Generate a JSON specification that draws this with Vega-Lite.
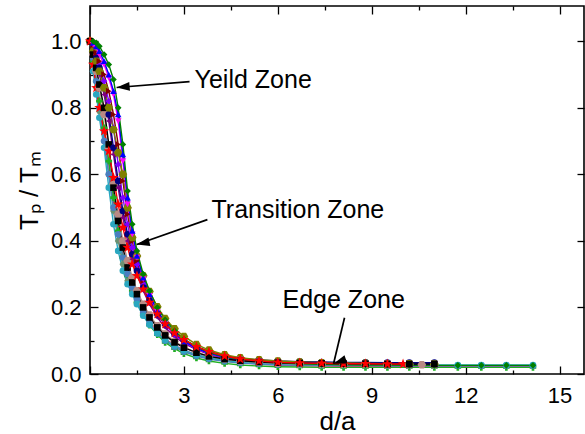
{
  "$schema": "https://vega.github.io/schema/vega-lite/v6.json",
  "width": 494,
  "height": 368,
  "autosize": {"type": "none"},
  "padding": {"left": 90, "top": 6, "right": 1, "bottom": 60},
  "background": "white",
  "config": {
    "view": {"stroke": "black", "strokeWidth": 1.6},
    "axis": {
      "domain": false,
      "grid": false,
      "labelFlush": false,
      "tickColor": "black",
      "tickWidth": 1.3,
      "labelFont": "Liberation Sans",
      "labelFontSize": 22,
      "labelColor": "black",
      "titleFont": "Liberation Sans",
      "titleFontWeight": "normal",
      "titleFontSize": 26,
      "titleColor": "black"
    }
  },
  "datasets": {
    "curves": [
      {"x": 0, "c1": 1.0, "c2": 1.0, "c3": 1.0, "c4": 1.0, "c5": 1.0, "c6": 1.0, "c7": 1.0, "c8": 1.0, "c9": 1.0, "c10": 1.0, "c11": 1.0, "c12": 1.0, "c13": 1.0, "c14": 1.0, "c15": 1.0, "c16": 1.0},
      {"x": 0.1, "c1": 0.95, "c2": 0.94, "c3": 0.93, "c4": 0.95, "c5": 0.91, "c6": 0.96, "c7": 0.97, "c8": 0.98, "c9": 0.975, "c10": 0.985, "c11": 0.97, "c12": 0.99, "c13": 0.995, "c14": 1.0, "c15": 0.96, "c16": 0.93},
      {"x": 0.2, "c1": 0.89, "c2": 0.88, "c3": 0.86, "c4": 0.88, "c5": 0.84, "c6": 0.91, "c7": 0.94, "c8": 0.96, "c9": 0.95, "c10": 0.965, "c11": 0.94, "c12": 0.98, "c13": 0.985, "c14": 0.995, "c15": 0.92, "c16": 0.86},
      {"x": 0.3, "c1": 0.82, "c2": 0.82, "c3": 0.79, "c4": 0.8, "c5": 0.77, "c6": 0.86, "c7": 0.9, "c8": 0.93, "c9": 0.92, "c10": 0.94, "c11": 0.91, "c12": 0.96, "c13": 0.97, "c14": 0.985, "c15": 0.87, "c16": 0.8},
      {"x": 0.45, "c1": 0.73, "c2": 0.74, "c3": 0.7, "c4": 0.7, "c5": 0.68, "c6": 0.78, "c7": 0.84, "c8": 0.88, "c9": 0.86, "c10": 0.9, "c11": 0.86, "c12": 0.93, "c13": 0.94, "c14": 0.96, "c15": 0.8, "c16": 0.73},
      {"x": 0.6, "c1": 0.63, "c2": 0.64, "c3": 0.6, "c4": 0.6, "c5": 0.56, "c6": 0.68, "c7": 0.76, "c8": 0.82, "c9": 0.78, "c10": 0.85, "c11": 0.8, "c12": 0.89, "c13": 0.9, "c14": 0.93, "c15": 0.69, "c16": 0.67},
      {"x": 0.75, "c1": 0.52, "c2": 0.53, "c3": 0.49, "c4": 0.5, "c5": 0.45, "c6": 0.57, "c7": 0.66, "c8": 0.74, "c9": 0.68, "c10": 0.78, "c11": 0.735, "c12": 0.84, "c13": 0.85, "c14": 0.885, "c15": 0.56, "c16": 0.59},
      {"x": 0.9, "c1": 0.43, "c2": 0.43, "c3": 0.4, "c4": 0.42, "c5": 0.37, "c6": 0.48, "c7": 0.56, "c8": 0.63, "c9": 0.58, "c10": 0.69, "c11": 0.665, "c12": 0.76, "c13": 0.78, "c14": 0.8, "c15": 0.46, "c16": 0.51},
      {"x": 1.05, "c1": 0.36, "c2": 0.35, "c3": 0.33, "c4": 0.35, "c5": 0.31, "c6": 0.4, "c7": 0.47, "c8": 0.53, "c9": 0.49, "c10": 0.58, "c11": 0.6, "c12": 0.64, "c13": 0.66, "c14": 0.69, "c15": 0.38, "c16": 0.44},
      {"x": 1.2, "c1": 0.305, "c2": 0.295, "c3": 0.28, "c4": 0.3, "c5": 0.27, "c6": 0.34, "c7": 0.4, "c8": 0.45, "c9": 0.42, "c10": 0.48, "c11": 0.5, "c12": 0.51, "c13": 0.53, "c14": 0.55, "c15": 0.32, "c16": 0.38},
      {"x": 1.35, "c1": 0.26, "c2": 0.25, "c3": 0.245, "c4": 0.26, "c5": 0.24, "c6": 0.29, "c7": 0.345, "c8": 0.38, "c9": 0.36, "c10": 0.4, "c11": 0.41, "c12": 0.42, "c13": 0.43, "c14": 0.45, "c15": 0.275, "c16": 0.33},
      {"x": 1.5, "c1": 0.228, "c2": 0.215, "c3": 0.215, "c4": 0.225, "c5": 0.21, "c6": 0.25, "c7": 0.3, "c8": 0.33, "c9": 0.31, "c10": 0.34, "c11": 0.355, "c12": 0.35, "c13": 0.355, "c14": 0.37, "c15": 0.24, "c16": 0.295},
      {"x": 1.7, "c1": 0.19, "c2": 0.178, "c3": 0.18, "c4": 0.185, "c5": 0.175, "c6": 0.21, "c7": 0.25, "c8": 0.27, "c9": 0.26, "c10": 0.28, "c11": 0.295, "c12": 0.285, "c13": 0.29, "c14": 0.3, "c15": 0.2, "c16": 0.255},
      {"x": 1.9, "c1": 0.158, "c2": 0.147, "c3": 0.15, "c4": 0.152, "c5": 0.148, "c6": 0.177, "c7": 0.21, "c8": 0.225, "c9": 0.22, "c10": 0.232, "c11": 0.248, "c12": 0.235, "c13": 0.24, "c14": 0.25, "c15": 0.17, "c16": 0.215},
      {"x": 2.15, "c1": 0.128, "c2": 0.118, "c3": 0.122, "c4": 0.123, "c5": 0.122, "c6": 0.145, "c7": 0.17, "c8": 0.18, "c9": 0.18, "c10": 0.188, "c11": 0.202, "c12": 0.187, "c13": 0.19, "c14": 0.2, "c15": 0.14, "c16": 0.18},
      {"x": 2.4, "c1": 0.105, "c2": 0.095, "c3": 0.1, "c4": 0.1, "c5": 0.102, "c6": 0.12, "c7": 0.14, "c8": 0.148, "c9": 0.15, "c10": 0.154, "c11": 0.167, "c12": 0.152, "c13": 0.155, "c14": 0.163, "c15": 0.116, "c16": 0.15},
      {"x": 2.7, "c1": 0.087, "c2": 0.076, "c3": 0.082, "c4": 0.081, "c5": 0.085, "c6": 0.098, "c7": 0.113, "c8": 0.118, "c9": 0.123, "c10": 0.123, "c11": 0.136, "c12": 0.12, "c13": 0.122, "c14": 0.13, "c15": 0.095, "c16": 0.123},
      {"x": 3.0, "c1": 0.072, "c2": 0.061, "c3": 0.068, "c4": 0.067, "c5": 0.071, "c6": 0.081, "c7": 0.092, "c8": 0.096, "c9": 0.101, "c10": 0.1, "c11": 0.113, "c12": 0.097, "c13": 0.098, "c14": 0.105, "c15": 0.079, "c16": 0.103},
      {"x": 3.4, "c1": 0.058, "c2": 0.048, "c3": 0.055, "c4": 0.054, "c5": 0.058, "c6": 0.065, "c7": 0.073, "c8": 0.076, "c9": 0.082, "c10": 0.079, "c11": 0.089, "c12": 0.076, "c13": 0.077, "c14": 0.082, "c15": 0.064, "c16": 0.082},
      {"x": 3.8, "c1": 0.048, "c2": 0.039, "c3": 0.046, "c4": 0.045, "c5": 0.049, "c6": 0.054, "c7": 0.059, "c8": 0.061, "c9": 0.068, "c10": 0.064, "c11": 0.072, "c12": 0.061, "c13": 0.062, "c14": 0.065, "c15": 0.053, "c16": 0.067},
      {"x": 4.3, "c1": 0.04, "c2": 0.032, "c3": 0.039, "c4": 0.038, "c5": 0.041, "c6": 0.045, "c7": 0.048, "c8": 0.05, "c9": 0.055, "c10": 0.052, "c11": 0.058, "c12": 0.05, "c13": 0.05, "c14": 0.052, "c15": 0.045, "c16": 0.054},
      {"x": 4.8, "c1": 0.034, "c2": 0.027, "c3": 0.034, "c4": 0.033, "c5": 0.036, "c6": 0.039, "c7": 0.041, "c8": 0.043, "c9": 0.047, "c10": 0.045, "c11": 0.049, "c12": 0.043, "c13": 0.043, "c14": 0.044, "c15": 0.04, "c16": 0.045},
      {"x": 5.4, "c1": 0.03, "c2": 0.024, "c3": 0.031, "c4": 0.03, "c5": 0.033, "c6": 0.035, "c7": 0.037, "c8": 0.038, "c9": 0.042, "c10": 0.04, "c11": 0.043, "c12": 0.038, "c13": 0.038, "c14": 0.038, "c15": 0.036, "c16": 0.039},
      {"x": 6.0, "c1": 0.027, "c2": 0.022, "c3": 0.029, "c4": 0.028, "c5": 0.031, "c6": 0.032, "c7": 0.034, "c8": 0.035, "c9": 0.039, "c10": 0.036, "c11": 0.039, "c12": 0.035, "c13": 0.035, "c14": 0.034, "c15": 0.034, "c16": 0.035},
      {"x": 6.7, "c1": 0.025, "c2": 0.021, "c3": 0.028, "c4": 0.027, "c5": 0.03, "c6": 0.031, "c7": 0.032, "c8": 0.033, "c9": 0.037, "c10": 0.034, "c11": 0.036, "c12": 0.033, "c13": 0.033, "c14": 0.031, "c15": 0.033, "c16": 0.033},
      {"x": 7.4, "c1": 0.024, "c2": 0.02, "c3": 0.027, "c4": 0.026, "c5": 0.029, "c6": 0.03, "c7": 0.031, "c8": 0.032, "c9": 0.036, "c10": 0.033, "c11": 0.034, "c12": 0.032, "c13": 0.032, "c14": 0.029, "c15": 0.032, "c16": 0.032},
      {"x": 8.1, "c1": 0.023, "c2": 0.02, "c3": 0.027, "c4": 0.026, "c5": 0.028, "c6": 0.029, "c7": 0.03, "c8": 0.031, "c9": 0.035, "c10": 0.032, "c11": 0.033, "c12": 0.031, "c13": 0.031, "c14": 0.028, "c15": 0.031, "c16": 0.031},
      {"x": 8.8, "c1": 0.023, "c2": 0.02, "c3": 0.026, "c4": 0.026, "c5": 0.028, "c6": 0.029, "c7": 0.03, "c8": 0.031, "c9": 0.035, "c10": 0.031, "c11": 0.032, "c12": 0.031, "c13": 0.031, "c14": 0.027, "c15": 0.031, "c16": 0.031},
      {"x": 9.5, "c1": 0.023, "c2": 0.02, "c3": 0.026, "c4": 0.025, "c5": 0.027, "c6": 0.028, "c7": 0.03, "c8": 0.03, "c9": 0.034, "c10": 0.031, "c11": 0.031, "c12": 0.031, "c13": 0.03, "c14": 0.027, "c15": 0.03, "c16": 0.03},
      {"x": 10.0, "c16": 0.03},
      {"x": 10.2, "c1": 0.022, "c2": 0.02, "c3": 0.026, "c4": 0.025, "c5": 0.027, "c6": 0.028, "c7": 0.029, "c8": 0.03, "c9": 0.034, "c10": 0.031, "c11": 0.031, "c12": 0.03, "c13": 0.03, "c14": 0.026, "c15": 0.03},
      {"x": 10.6, "c6": 0.028},
      {"x": 11.0, "c1": 0.022, "c2": 0.02, "c3": 0.026, "c4": 0.025, "c5": 0.027, "c6": 0.028, "c7": 0.029, "c8": 0.03, "c9": 0.034, "c10": 0.031, "c11": 0.03, "c12": 0.03, "c13": 0.03, "c14": 0.026, "c15": 0.03},
      {"x": 11.75, "c1": 0.022, "c2": 0.02, "c4": 0.025, "c5": 0.027, "c14": 0.026},
      {"x": 12.5, "c1": 0.022, "c2": 0.02, "c4": 0.025, "c5": 0.027, "c14": 0.026},
      {"x": 13.3, "c1": 0.022, "c2": 0.02, "c4": 0.025, "c5": 0.027, "c14": 0.026},
      {"x": 14.15, "c1": 0.022, "c2": 0.02, "c4": 0.025, "c5": 0.027, "c14": 0.026}
    ],
    "notes": [
      {"label": "Yeild Zone", "tx": 3.34, "ty": 0.885, "ax": 3.18, "ay": 0.879, "hx": 0.85, "hy": 0.861},
      {"label": "Transition Zone", "tx": 3.88, "ty": 0.494, "ax": 3.75, "ay": 0.464, "hx": 1.49, "hy": 0.389},
      {"label": "Edge Zone", "tx": 6.15, "ty": 0.223, "ax": 8.13, "ay": 0.169, "hx": 7.78, "hy": 0.031}
    ]
  },
  "resolve": {"axis": {"x": "independent", "y": "independent"}},
  "layer": [
    {
      "data": {"name": "curves"},
      "transform": [
        {"fold": ["c1", "c2", "c3", "c4", "c5", "c6", "c7", "c8", "c9", "c10", "c11", "c12", "c13", "c14", "c15", "c16"], "as": ["key", "y"]},
        {"filter": "isValid(datum.y)"}
      ],
      "mark": {"type": "line", "strokeWidth": 1.4},
      "encoding": {
        "x": {
          "field": "x", "type": "quantitative",
          "scale": {"domain": [0, 15.78], "nice": false, "zero": false},
          "axis": {
            "orient": "bottom",
            "title": "d/a",
            "values": [0, 1.5, 3, 4.5, 6, 7.5, 9, 10.5, 12, 13.5, 15],
            "labelExpr": "datum.value % 3 === 0 ? datum.label : ''",
            "tickSize": {"condition": {"test": "datum.value % 3 === 0", "value": -8}, "value": -4},
            "labelPadding": 19,
            "titlePadding": 2
          }
        },
        "y": {
          "field": "y", "type": "quantitative",
          "scale": {"domain": [0, 1.106], "nice": false, "zero": false},
          "axis": {
            "orient": "left",
            "title": "Tₚ / Tₘ",
            "values": [0, 0.1, 0.2, 0.3, 0.4, 0.5, 0.6, 0.7, 0.8, 0.9, 1.0],
            "labelExpr": "round(datum.value * 10) % 2 === 0 ? format(datum.value, '.1f') : ''",
            "tickSize": {"condition": {"test": "round(datum.value * 10) % 2 === 0", "value": -8}, "value": -4},
            "labelPadding": 17,
            "titlePadding": 8
          }
        },
        "color": {
          "field": "key", "type": "nominal", "legend": null,
          "scale": {
            "domain": ["c1", "c2", "c3", "c4", "c5", "c6", "c7", "c8", "c9", "c10", "c11", "c12", "c13", "c14", "c15", "c16"],
            "range": ["#D0309A", "#20B020", "#6B9070", "#4A7EC0", "#2AA7C0", "#B88A84", "#800080", "#8000FF", "#000080", "#800000", "#808000", "#FF00FF", "#0000FF", "#008000", "#000000", "#FF0000"]
          }
        },
        "detail": {"field": "key"}
      }
    },
    {
      "data": {"name": "curves"},
      "transform": [
        {"fold": ["c2", "c3", "c4", "c5", "c6", "c7", "c8", "c9", "c10", "c11", "c12", "c13", "c14", "c15", "c16"], "as": ["key", "y"]},
        {"filter": "isValid(datum.y)"}
      ],
      "mark": {"type": "point", "filled": true, "opacity": 1},
      "encoding": {
        "x": {"field": "x", "type": "quantitative", "scale": {"domain": [0, 15.78], "nice": false, "zero": false}, "axis": null},
        "y": {"field": "y", "type": "quantitative", "scale": {"domain": [0, 1.106], "nice": false, "zero": false}, "axis": null},
        "color": {"field": "key", "type": "nominal", "legend": null},
        "shape": {
          "field": "key", "type": "nominal", "legend": null,
          "scale": {
            "domain": ["c2", "c3", "c4", "c5", "c6", "c7", "c8", "c9", "c10", "c11", "c12", "c13", "c14", "c15", "c16"],
            "range": [
              "cross",
              "M1,0L0.5,0.866L-0.5,0.866L-1,0L-0.5,-0.866L0.5,-0.866Z",
              "circle",
              "circle",
              "M1,0L0.5,0.866L-0.5,0.866L-1,0L-0.5,-0.866L0.5,-0.866Z",
              "triangle-left",
              "diamond",
              "circle",
              "triangle-right",
              "M1,0L0.5,0.866L-0.5,0.866L-1,0L-0.5,-0.866L0.5,-0.866Z",
              "triangle-down",
              "triangle-up",
              "diamond",
              "square",
              "M0,-1L0.235,-0.324L0.951,-0.309L0.38,0.124L0.588,0.809L0,0.4L-0.588,0.809L-0.38,0.124L-0.951,-0.309L-0.235,-0.324Z"
            ]
          }
        },
        "size": {
          "condition": [
            {"test": "datum.key === 'c16'", "value": 120},
            {"test": "datum.key === 'c11' || datum.key === 'c6'", "value": 75}
          ],
          "value": 44
        }
      }
    },
    {
      "data": {"name": "curves"},
      "transform": [
        {"fold": ["c14"], "as": ["key", "y"]},
        {"filter": "isValid(datum.y)"}
      ],
      "mark": {"type": "point", "opacity": 0},
      "encoding": {
        "x": {
          "field": "x", "type": "quantitative",
          "scale": {"domain": [0, 15.78], "nice": false, "zero": false},
          "axis": {
            "orient": "top",
            "title": null,
            "labels": false,
            "values": [0, 1.5, 3, 4.5, 6, 7.5, 9, 10.5, 12, 13.5, 15],
            "tickSize": {"condition": {"test": "datum.value % 3 === 0", "value": -8}, "value": -4}
          }
        },
        "y": {
          "field": "y", "type": "quantitative",
          "scale": {"domain": [0, 1.106], "nice": false, "zero": false},
          "axis": {
            "orient": "right",
            "title": null,
            "labels": false,
            "values": [0, 0.2, 0.4, 0.6, 0.8, 1.0],
            "tickSize": -7
          }
        }
      }
    },
    {
      "data": {"name": "notes"},
      "mark": {"type": "rule", "color": "black", "strokeWidth": 1.7},
      "encoding": {
        "x": {"field": "ax", "type": "quantitative", "scale": {"domain": [0, 15.78], "nice": false, "zero": false}, "axis": null},
        "y": {"field": "ay", "type": "quantitative", "scale": {"domain": [0, 1.106], "nice": false, "zero": false}, "axis": null},
        "x2": {"field": "hx"},
        "y2": {"field": "hy"}
      }
    },
    {
      "data": {"name": "notes"},
      "mark": {"type": "point", "filled": true, "opacity": 1, "color": "black", "size": 210, "shape": "M0,0L0.6,1.8L-0.6,1.8Z"},
      "encoding": {
        "x": {"field": "hx", "type": "quantitative", "scale": {"domain": [0, 15.78], "nice": false, "zero": false}, "axis": null},
        "y": {"field": "hy", "type": "quantitative", "scale": {"domain": [0, 1.106], "nice": false, "zero": false}, "axis": null},
        "angle": {
          "field": "label", "type": "nominal", "legend": null,
          "scale": {"domain": ["Yeild Zone", "Transition Zone", "Edge Zone"], "range": [265, 251, 195]}
        }
      }
    },
    {
      "data": {"name": "notes"},
      "mark": {"type": "text", "align": "left", "baseline": "middle", "font": "Liberation Sans", "fontSize": 25, "color": "black"},
      "encoding": {
        "x": {"field": "tx", "type": "quantitative", "scale": {"domain": [0, 15.78], "nice": false, "zero": false}, "axis": null},
        "y": {"field": "ty", "type": "quantitative", "scale": {"domain": [0, 1.106], "nice": false, "zero": false}, "axis": null},
        "text": {"field": "label"}
      }
    }
  ]
}
